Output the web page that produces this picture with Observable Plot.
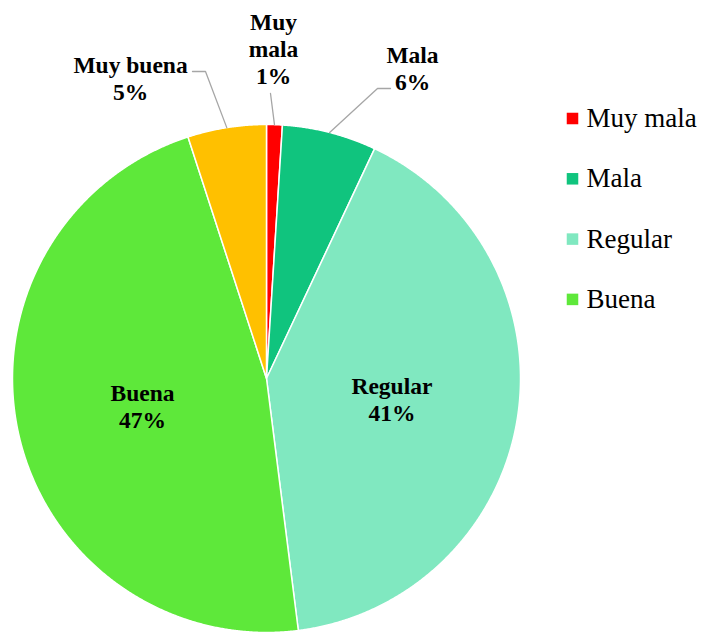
<!DOCTYPE html>
<html><head><meta charset="utf-8">
<script src="https://cdn.jsdelivr.net/npm/d3@7"></script>
<script src="https://cdn.jsdelivr.net/npm/@observablehq/plot@0.6"></script>
<style>body{margin:0;background:#fff}</style>
</head><body><div id="chart"></div>
<script>
// ---- data ----
const categories = ["Muy mala", "Mala", "Regular", "Buena", "Muy buena"];
const values = [1, 6, 41, 47, 5];
const colors = ["#FF0000", "#10C47E", "#80E8C0", "#5EE83A", "#FFC000"];
const legendCategories = ["Muy mala", "Mala", "Regular", "Buena"];
const labelTexts = ["Muy\nmala\n1%", "Mala\n6%", "Regular\n41%", "Buena\n47%", "Muy buena\n5%"];

// ---- layout (pixels) ----
const W = 704, H = 632;
const CX = 266, CY = 378, R = 254;
const FONT = "Liberation Serif";
// outside labels: label block centre and leader elbow points
const outside = {
  "Muy mala": {lx: 273, ly: 48, path: [[270, 93]]},
  "Mala": {lx: 412, ly: 67, path: [[377, 88], [390, 88]]},
  "Muy buena": {lx: 130, ly: 77, path: [[205, 71], [192, 71]]}
};
const legendX = 572, legendY0 = 118, legendStep = 60.3;

// ---- derived geometry ----
const total = d3.sum(values);
const slices = [];
let acc = 0;
categories.forEach((name, i) => {
  const a0 = acc / total * 2 * Math.PI;
  acc += values[i];
  const a1 = acc / total * 2 * Math.PI;
  slices.push({name, value: values[i], a0, a1, mid: (a0 + a1) / 2, text: labelTexts[i]});
});
const pt = (a, r) => [CX + r * Math.sin(a), CY - r * Math.cos(a)];

const polyPts = [];
for (const s of slices) {
  polyPts.push({name: s.name, x: CX, y: CY});
  const n = Math.max(2, Math.ceil((s.a1 - s.a0) / (Math.PI / 720)));
  for (let k = 0; k <= n; k++) {
    const [x, y] = pt(s.a0 + (s.a1 - s.a0) * k / n, R);
    polyPts.push({name: s.name, x, y});
  }
  polyPts.push({name: s.name, x: CX, y: CY});
}

const labels = [];
const leaders = [];
for (const s of slices) {
  if (outside[s.name]) {
    const o = outside[s.name];
    labels.push({text: s.text, x: o.lx, y: o.ly});
    const [ex, ey] = pt(s.mid, R);
    leaders.push({name: s.name, x: ex, y: ey});
    o.path.forEach(([x, y]) => leaders.push({name: s.name, x, y}));
  } else {
    const [x, y] = pt(s.mid, R * 0.5);
    labels.push({text: s.text, x, y});
  }
}

const legend = legendCategories.map((name, i) => ({name, x: legendX, y: legendY0 + i * legendStep}));

const chart = Plot.plot({
  width: W, height: H, margin: 0,
  x: {domain: [0, W], range: [0, W], axis: null},
  y: {domain: [0, H], range: [0, H], axis: null},
  color: {domain: categories, range: colors},
  marks: [
    Plot.line(polyPts, {x: "x", y: "y", z: "name", fill: "name", stroke: "#fff", strokeWidth: 1.5, curve: "linear"}),
    Plot.line(leaders, {x: "x", y: "y", z: "name", stroke: "#A6A6A6", strokeWidth: 1.3}),
    Plot.text(labels, {x: "x", y: "y", text: "text", fontSize: 23.5, fontWeight: "bold", fill: "#000", lineHeight: 1.15, lineAnchor: "middle", textAnchor: "middle", fontFamily: FONT}),
    Plot.dot(legend, {x: "x", y: "y", fill: "name", symbol: "square", r: 6.5, stroke: null}),
    Plot.text(legend, {x: d => d.x + 14, y: "y", text: "name", fontSize: 27, textAnchor: "start", fill: "#000", fontFamily: FONT})
  ]
});
document.getElementById("chart").appendChild(chart);
</script>
</body></html>
